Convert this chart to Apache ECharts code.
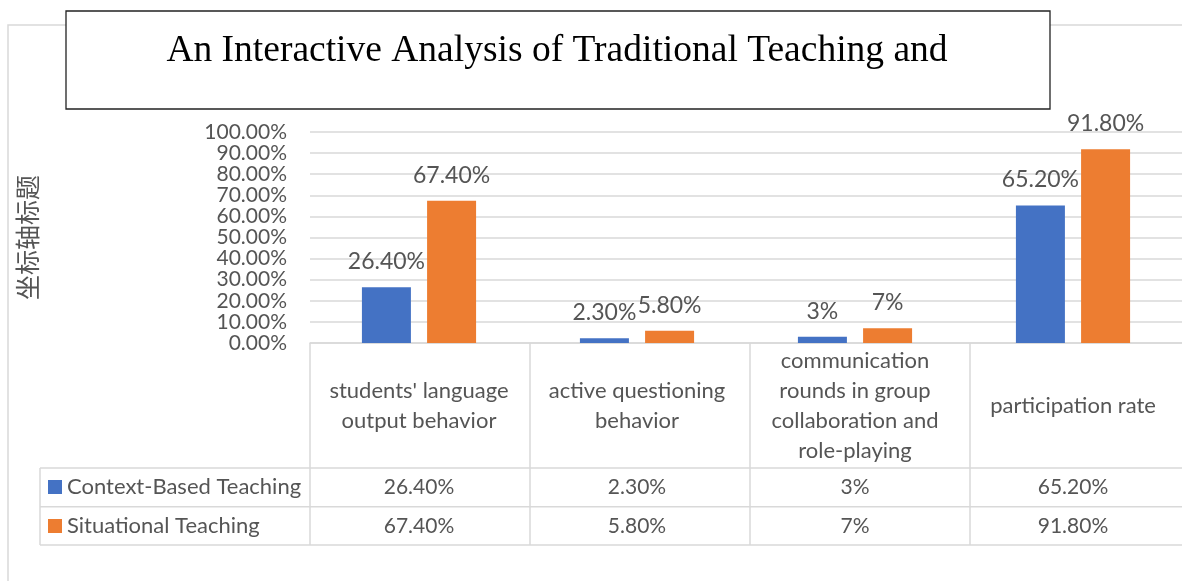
<!DOCTYPE html>
<html><head><meta charset="utf-8">
<script src="https://cdn.jsdelivr.net/npm/echarts@6/dist/echarts.min.js"></script>
<style>html,body{margin:0;padding:0;background:#fff}#c{width:1182px;height:581px}</style>
</head><body><div id="c"></div>
<script>
// ---- data ----
const titleText = "An Interactive Analysis of Traditional Teaching and";
const categories = ["students' language output behavior", "active questioning behavior", "communication rounds in group collaboration and role-playing", "participation rate"];
const headerLabels = ["students' language\noutput behavior", "active questioning\nbehavior", "communication\nrounds in group\ncollaboration and\nrole-playing", "participation rate"];
const seriesNames = ["Context-Based Teaching", "Situational Teaching"];
const contextValues = [0.264, 0.023, 0.03, 0.652];
const situationalValues = [0.674, 0.058, 0.07, 0.918];
const contextLabels = ["26.40%", "2.30%", "3%", "65.20%"];
const situationalLabels = ["67.40%", "5.80%", "7%", "91.80%"];
const yAxisTitle = "坐标轴标题";

// ---- layout ----
const FONT = "Lato";
const TXT = "#555555";
const LINE = "#D9D9D9";
const G = { left: 310, top: 132, width: 880, height: 211 };
const rowTop = 468, rowMid = 506.7, rowBot = 545, legLeft = 40;
const catW = G.width / categories.length;
const gBottom = G.top + G.height;

const chart = echarts.init(document.getElementById('c'));

const graphics = [];
// outer frame
graphics.push({ type: 'rect', shape: { x: 8, y: 25, width: 1300, height: 700 }, style: { fill: 'none', stroke: LINE, lineWidth: 1.5 }, z: -10, silent: true });
// title box
graphics.push({ type: 'rect', shape: { x: 66, y: 11, width: 984, height: 98 }, style: { fill: '#fff', stroke: '#222', lineWidth: 1.3 }, z: 5 });
graphics.push({ type: 'text', x: 557, y: 51, style: { text: titleText, fill: '#000', font: '37.5px "Liberation Serif"', textAlign: 'center', textVerticalAlign: 'middle' }, z: 6 });
// table horizontal lines
[rowTop, rowMid, rowBot].forEach(y => graphics.push({ type: 'line', shape: { x1: legLeft, y1: y, x2: G.left + G.width, y2: y }, style: { stroke: LINE, lineWidth: 1.5 }, z: 1 }));
graphics.push({ type: 'line', shape: { x1: legLeft, y1: rowTop, x2: legLeft, y2: rowBot }, style: { stroke: LINE, lineWidth: 1.5 }, z: 1 });
for (let i = 0; i <= categories.length; i++) {
  const x = G.left + i * catW;
  graphics.push({ type: 'line', shape: { x1: x, y1: gBottom, x2: x, y2: rowBot }, style: { stroke: LINE, lineWidth: 1.5 }, z: 1 });
}

const labelBase = { color: TXT, fontFamily: FONT, fontSize: 21 };

chart.setOption({
  animation: false,
  backgroundColor: '#fff',
  color: ['#4472C4', '#ED7D31'],
  grid: { left: G.left, top: G.top, width: G.width, height: G.height, containLabel: false },
  legend: {
    orient: 'vertical', left: 48, top: 475, padding: 0, itemGap: 15,
    itemWidth: 14, itemHeight: 14, icon: 'rect',
    textStyle: { color: TXT, fontFamily: FONT, fontSize: 22, lineHeight: 24 },
    data: seriesNames
  },
  xAxis: [
    { type: 'category', data: categories, position: 'bottom',
      axisLine: { show: true, lineStyle: { color: LINE, width: 1.5 } }, axisTick: { show: false },
      axisLabel: Object.assign({}, labelBase, { fontSize: 22, interval: 0, margin: 63, verticalAlign: 'middle', lineHeight: 30, align: 'center',
        formatter: (v, i) => headerLabels[i] }) },
    { type: 'category', data: categories, position: 'bottom',
      axisLine: { show: false }, axisTick: { show: false },
      axisLabel: Object.assign({}, labelBase, { interval: 0, margin: 144, verticalAlign: 'middle', formatter: (v, i) => contextLabels[i] }) },
    { type: 'category', data: categories, position: 'bottom',
      axisLine: { show: false }, axisTick: { show: false },
      axisLabel: Object.assign({}, labelBase, { interval: 0, margin: 183, verticalAlign: 'middle', formatter: (v, i) => situationalLabels[i] }) }
  ],
  yAxis: {
    type: 'value', min: 0, max: 1, interval: 0.1,
    name: yAxisTitle, nameLocation: 'middle', nameRotate: 90, nameGap: 270,
    nameTextStyle: { color: TXT, fontFamily: '"Noto Sans CJK SC"', fontSize: 25 },
    axisLine: { show: false }, axisTick: { show: false },
    splitLine: { lineStyle: { color: LINE, width: 1.5 } },
    axisLabel: Object.assign({}, labelBase, { margin: 23, formatter: v => (v * 100).toFixed(2) + '%' })
  },
  series: [
    { name: seriesNames[0], type: 'bar', data: contextValues, barWidth: 49, barGap: '33%',
      label: { show: true, position: 'top', distance: 14, color: TXT, fontFamily: FONT, fontSize: 23, formatter: p => contextLabels[p.dataIndex] } },
    { name: seriesNames[1], type: 'bar', data: situationalValues, barWidth: 49, barGap: '33%',
      label: { show: true, position: 'top', distance: 14, color: TXT, fontFamily: FONT, fontSize: 23, formatter: p => situationalLabels[p.dataIndex] } }
  ],
  graphic: graphics
});
</script></body></html>
